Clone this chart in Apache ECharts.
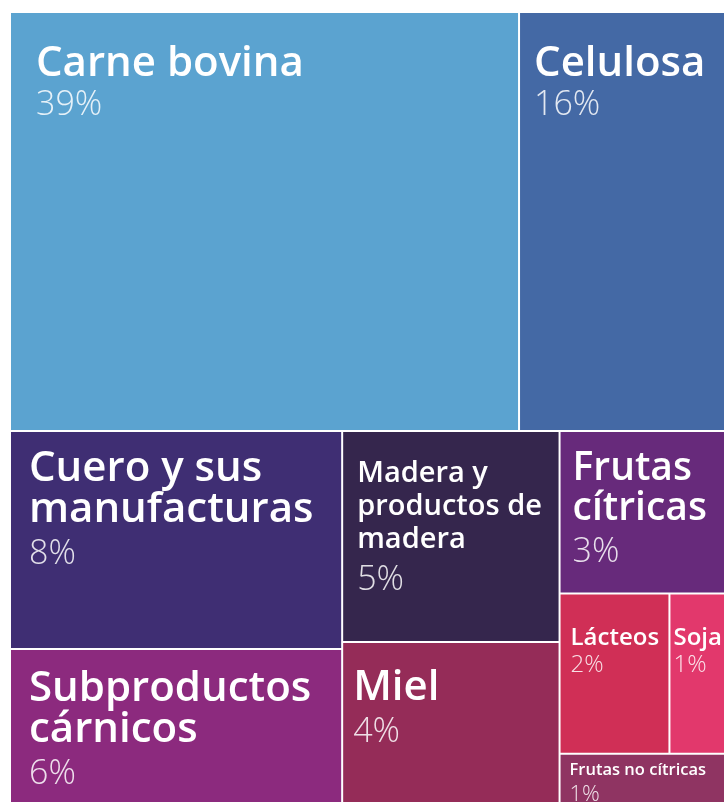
<!DOCTYPE html>
<html>
<head>
<meta charset="utf-8">
<script src="https://cdn.jsdelivr.net/npm/echarts@6/dist/echarts.min.js"></script>
<style>
  html, body { margin: 0; padding: 0; background: #ffffff; }
  #chart { width: 724px; height: 802px; }
</style>
</head>
<body>
<div id="chart"></div>
<script>
// ---- data ----
const categories = [
  'Carne bovina', 'Celulosa', 'Cuero y sus manufacturas', 'Subproductos cárnicos',
  'Madera y productos de madera', 'Miel', 'Frutas cítricas', 'Lácteos', 'Soja', 'Frutas no cítricas'
];
// share labels shown in each cell (%)
const shares = [39, 16, 8, 6, 5, 4, 3, 2, 1, 1];
// relative cell areas as drawn in the picture (thousands of px²)
const cellAreas = [213.3, 88.4, 72.4, 53.5, 45.9, 36.5, 27.7, 17.6, 9.7, 9.6];

// ---- styles ----
const palette = ['#5ba3d0', '#4469a5', '#3f2e73', '#8c2a7e', '#35264d', '#952c58', '#672a7b', '#d02f56', '#e2386c', '#8f3462'];
const nameLines = {
  2: 'Cuero y sus\nmanufacturas',
  3: 'Subproductos\ncárnicos',
  4: 'Madera y\nproductos de\nmadera',
  6: 'Frutas\ncítricas'
};
const labelStyle = [
  { dx: 25, dy: 30.5, ns: 42, nlh: 41, ps: 34, plh: 41 },
  { dx: 14, dy: 30.5, ns: 42, nlh: 41, ps: 34, plh: 41 },
  { dx: 18, dy: 16.5, ns: 42, nlh: 41, ps: 34, plh: 47 },
  { dx: 18, dy: 18.5, ns: 42, nlh: 41, ps: 34, plh: 47 },
  { dx: 14, dy: 25.5, ns: 29, nlh: 33, ps: 34, plh: 47 },
  { dx: 10, dy: 25, ns: 42, nlh: 40, ps: 34, plh: 48 },
  { dx: 12, dy: 17, ns: 39, nlh: 40, ps: 34, plh: 46 },
  { dx: 10, dy: 31, ns: 24, nlh: 26, ps: 24, plh: 28 },
  { dx: 3, dy: 31, ns: 24, nlh: 26, ps: 24, plh: 28 },
  { dx: 9, dy: 7, ns: 16.5, nlh: 18, ps: 22, plh: 30 }
];

function leaf(i) {
  const s = labelStyle[i];
  const text = nameLines[i] || categories[i];
  return {
    name: categories[i],
    value: cellAreas[i],
    itemStyle: { color: palette[i], borderWidth: 1, borderColor: '#ffffff' },
    label: {
      show: true,
      position: [s.dx, s.dy],
      padding: 0,
      overflow: 'none',
      lineOverflow: 'none',
      formatter: () => '{n|' + text + '}\n{p|' + shares[i] + '%}',
      rich: {
        n: { fontFamily: 'Open Sans', fontWeight: 600, fontSize: s.ns, lineHeight: s.nlh, color: '#ffffff' },
        p: { fontFamily: 'Open Sans', fontWeight: 300, fontSize: s.ps, lineHeight: s.plh, color: 'rgba(255,255,255,0.85)' }
      }
    }
  };
}
function group(name, children) {
  return { name: name, children: children, itemStyle: { borderWidth: 0, gapWidth: 0, borderColor: '#ffffff' } };
}

const tree = [
  group('top', [leaf(0), leaf(1)]),
  group('bottom', [
    group('c1', [leaf(2), leaf(3)]),
    group('rest', [
      group('c2', [leaf(4), leaf(5)]),
      group('c3', [leaf(6), group('e', [group('f', [leaf(7), leaf(8)]), leaf(9)])])
    ])
  ])
];

const chart = echarts.init(document.getElementById('chart'), null, { renderer: 'canvas' });
chart.setOption({
  animation: false,
  series: [{
    type: 'treemap',
    left: 10, top: 12, width: 720, height: 798,
    roam: false,
    nodeClick: false,
    sort: false,
    squareRatio: 1,
    breadcrumb: { show: false },
    upperLabel: { show: false },
    itemStyle: { borderWidth: 0, gapWidth: 0, borderColor: '#ffffff' },
    label: { show: true },
    emphasis: { disabled: true },
    data: tree
  }]
});
</script>
</body>
</html>
